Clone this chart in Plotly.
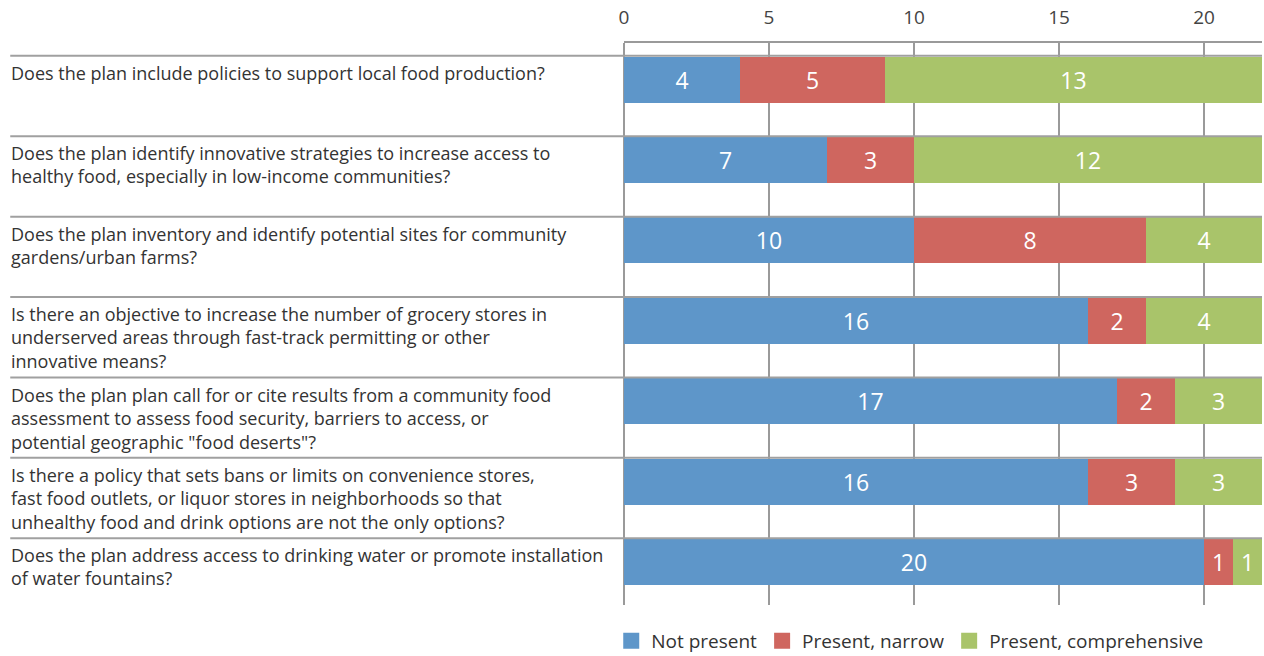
import plotly.graph_objects as go

questions = [
    "Does the plan include policies to support local food production?",
    "Does the plan identify innovative strategies to increase access to<br>healthy food, especially in low-income communities?",
    "Does the plan inventory and identify potential sites for community<br>gardens/urban farms?",
    "Is there an objective to increase the number of grocery stores in<br>underserved areas through fast-track permitting or other<br>innovative means?",
    "Does the plan plan call for or cite results from a community food<br>assessment to assess food security, barriers to access, or<br>potential geographic \"food deserts\"?",
    "Is there a policy that sets bans or limits on convenience stores,<br>fast food outlets, or liquor stores in neighborhoods so that<br>unhealthy food and drink options are not the only options?",
    "Does the plan address access to drinking water or promote installation<br>of water fountains?",
]
not_present = [4, 7, 10, 16, 17, 16, 20]
present_narrow = [5, 3, 8, 2, 2, 3, 1]
present_comprehensive = [13, 12, 4, 4, 3, 3, 1]
series_names = ["Not present", "Present, narrow", "Present, comprehensive"]
x_ticks = [0, 5, 10, 15, 20]

colors = ["#5E96C9", "#CF665F", "#A9C46A"]
FONT = "Open Sans"
rows = list(range(len(questions)))

fig = go.Figure()
for name, vals, col in zip(series_names, [not_present, present_narrow, present_comprehensive], colors):
    fig.add_trace(go.Bar(
        y=rows, x=vals, orientation="h", name=name,
        marker=dict(color=col, line=dict(width=0)),
        width=0.572, offset=-0.49,
        text=vals, textposition="inside", insidetextanchor="middle",
        textangle=0, constraintext="none",
        textfont=dict(color="white", size=23, family=FONT),
        showlegend=False, hoverinfo="skip",
    ))
for name, col in zip(series_names, colors):
    fig.add_trace(go.Scatter(
        x=[None], y=[None], mode="markers", name=name,
        marker=dict(symbol="square", size=16, color=col),
        showlegend=True,
    ))

# row separators
for i in rows:
    fig.add_shape(type="line", xref="paper", yref="y",
                  x0=-0.962, x1=1, y0=i - 0.5, y1=i - 0.5,
                  line=dict(color="#A0A0A0", width=2), layer="above")

# question labels
for i, q in enumerate(questions):
    fig.add_annotation(text=q, xref="paper", yref="y", x=-0.964, y=i - 0.46,
                       xanchor="left", yanchor="top", align="left", showarrow=False,
                       font=dict(family=FONT, size=18, color="#333333"))

fig.update_layout(
    width=1264, height=656,
    margin=dict(l=624, r=2, t=43, b=51, autoexpand=False),
    plot_bgcolor="white", paper_bgcolor="white",
    barmode="stack", bargap=0,
    font=dict(family=FONT, color="#444444"),
    xaxis=dict(side="top", range=[0, 22], tickvals=x_ticks, ticks="",
               showgrid=True, gridcolor="#9A9A9A", gridwidth=1.5,
               zeroline=True, zerolinecolor="#9A9A9A", zerolinewidth=1.5,
               showline=True, linecolor="#9A9A9A", linewidth=1.5,
               tickfont=dict(size=19, color="#444444", family=FONT),
               ticklabelstandoff=10, fixedrange=True, automargin=False),
    yaxis=dict(range=[6.33, -0.66], showticklabels=False, showgrid=False,
               zeroline=False, ticks="", fixedrange=True, automargin=False),
    legend=dict(orientation="h", x=-0.02, xanchor="left", y=-0.064, yanchor="middle",
                traceorder="normal",
                font=dict(size=19, color="#333333", family=FONT),
                itemwidth=30, bgcolor="rgba(0,0,0,0)"),
)

fig.write_html("out.html")
